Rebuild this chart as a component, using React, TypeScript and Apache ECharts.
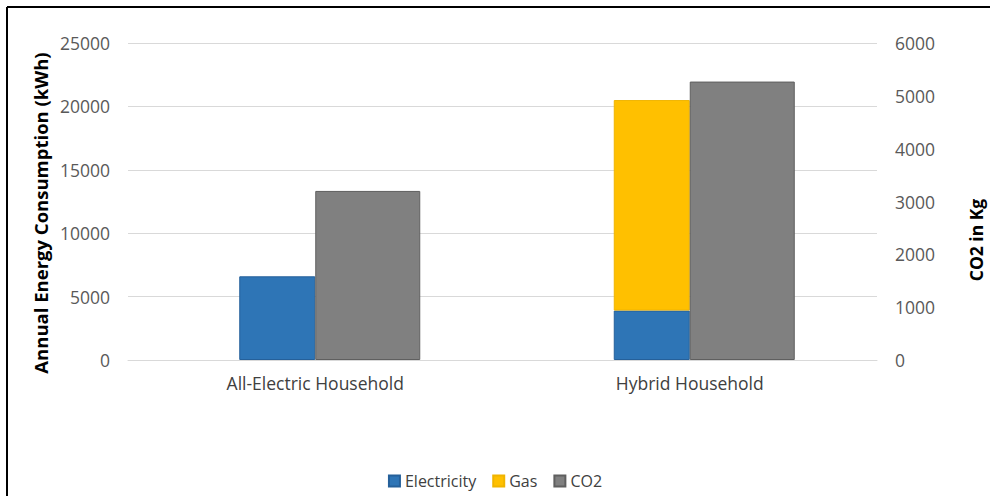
import React, { useEffect, useRef } from "react";
import * as echarts from "echarts";

const categories = ["All-Electric Household", "Hybrid Household"];
const electricity = [6600, 3900];
const gas: (number | null)[] = [null, 16600];
const co2 = [3200, 5270];
const leftTicks = { min: 0, max: 25000, interval: 5000 };
const rightTicks = { min: 0, max: 6000, interval: 1000 };
const legendNames = ["Electricity", "Gas", "CO2"];

const FONT = "Open Sans";

export default function App() {
  const ref = useRef<HTMLDivElement>(null);
  useEffect(() => {
    if (!ref.current) return;
    const chart = echarts.init(ref.current, null, { renderer: "svg" });
    const labelStyle = { color: "#595959", fontSize: 17.5, fontFamily: FONT };
    chart.setOption({
      animation: false,
      backgroundColor: "#ffffff",
      textStyle: { fontFamily: FONT },
      grid: { left: 128, right: 113, top: 43, bottom: 136, containLabel: false },
      legend: {
        data: legendNames,
        left: "center",
        top: 468,
        icon: "rect",
        itemWidth: 11,
        itemHeight: 11,
        itemGap: 16,
        textStyle: { color: "#404040", fontSize: 16, fontFamily: FONT },
      },
      xAxis: [
        {
          type: "category",
          data: categories,
          axisLine: { show: true, lineStyle: { color: "#d9d9d9", width: 1 } },
          axisTick: { show: false },
          axisLabel: { ...labelStyle, color: "#404040", margin: 14 },
        },
        {
          type: "category",
          data: categories,
          show: false,
        },
      ],
      yAxis: [
        {
          type: "value",
          ...leftTicks,
          axisLine: { show: false },
          axisTick: { show: false },
          axisLabel: { ...labelStyle, margin: 18, formatter: (v: number) => String(v) },
          splitLine: { lineStyle: { color: "#d9d9d9", width: 1 } },
        },
        {
          type: "value",
          ...rightTicks,
          position: "right",
          axisLine: { show: false },
          axisTick: { show: false },
          axisLabel: { ...labelStyle, margin: 18, formatter: (v: number) => String(v) },
          splitLine: { show: false },
        },
      ],
      graphic: [
        {
          type: "line",
          shape: { x1: 7, y1: 7, x2: 990, y2: 7 },
          style: { stroke: "#000", lineWidth: 2 },
        },
        {
          type: "line",
          shape: { x1: 7, y1: 7, x2: 7, y2: 496 },
          style: { stroke: "#000", lineWidth: 2 },
        },
        {
          type: "text",
          x: 40,
          y: 213,
          rotation: Math.PI / 2,
          style: {
            text: "Annual Energy Consumption (kWh)",
            fontSize: 18.5,
            fontWeight: "bold",
            fontFamily: FONT,
            fill: "#000",
            textAlign: "center",
            textVerticalAlign: "middle",
          },
        },
        {
          type: "text",
          x: 976,
          y: 240,
          rotation: Math.PI / 2,
          style: {
            text: "CO2 in Kg",
            fontSize: 17.5,
            fontWeight: "bold",
            fontFamily: FONT,
            fill: "#000",
            textAlign: "center",
            textVerticalAlign: "middle",
          },
        },
      ],
      series: [
        {
          name: "Electricity",
          type: "bar",
          xAxisIndex: 0,
          yAxisIndex: 0,
          stack: "energy",
          barWidth: 76,
          barGap: "0%",
          data: electricity,
          itemStyle: { color: "#2E75B6", borderColor: "#25609a", borderWidth: 1 },
        },
        {
          name: "Gas",
          type: "bar",
          xAxisIndex: 0,
          yAxisIndex: 0,
          stack: "energy",
          barWidth: 76,
          barGap: "0%",
          data: gas,
          itemStyle: { color: "#FFC000", borderColor: "#f0b400", borderWidth: 1 },
        },
        {
          name: "spacerA",
          type: "bar",
          xAxisIndex: 0,
          yAxisIndex: 0,
          barWidth: 76,
          barGap: "0%",
          silent: true,
          data: [null, null],
        },
        {
          name: "spacerB",
          type: "bar",
          xAxisIndex: 1,
          yAxisIndex: 1,
          barWidth: 105,
          barGap: "0%",
          silent: true,
          data: [null, null],
        },
        {
          name: "CO2",
          type: "bar",
          xAxisIndex: 1,
          yAxisIndex: 1,
          barWidth: 105,
          barGap: "0%",
          data: co2,
          itemStyle: { color: "#808080", borderColor: "#5f5f5f", borderWidth: 1 },
        },
      ],
    });
    return () => chart.dispose();
  }, []);
  return (
    <div
      ref={ref}
      style={{ position: "fixed", left: 0, top: 0, width: 990, height: 496, background: "#fff" }}
    />
  );
}
